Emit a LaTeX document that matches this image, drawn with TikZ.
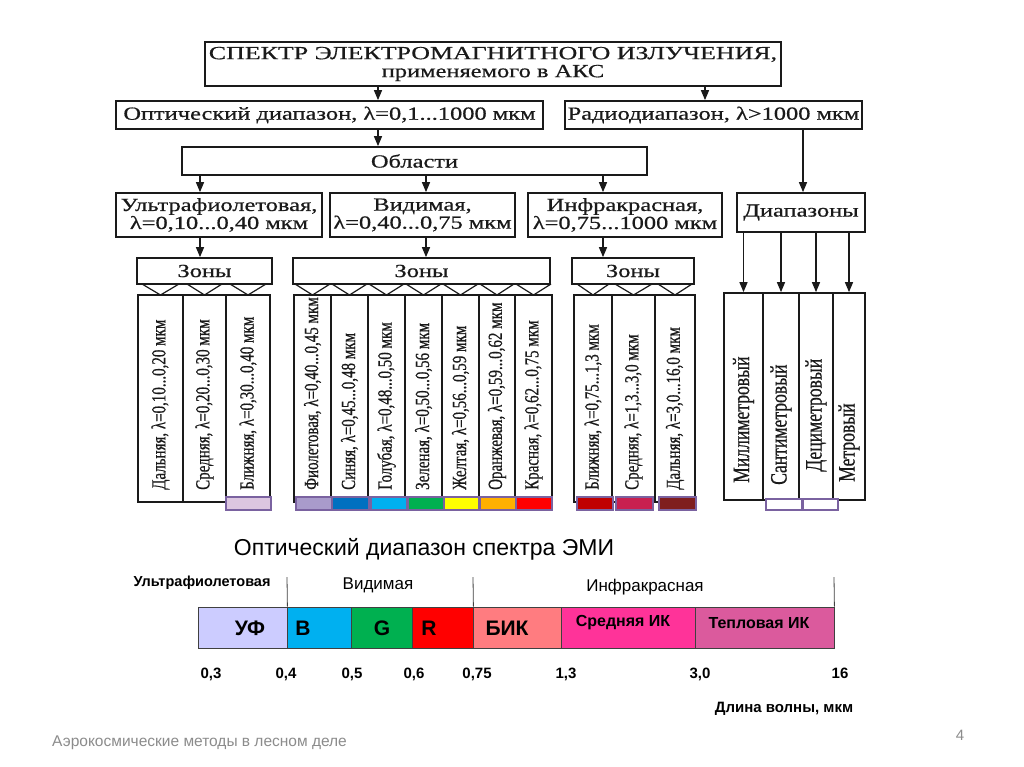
\documentclass[tikz,border=0pt]{standalone}
\usepackage{fontspec}
\usetikzlibrary{arrows.meta}
\newfontfamily\serifH[FakeStretch=1.32,FakeBold=0.6]{Liberation Serif}
\newfontfamily\serifT[FakeStretch=1.40,FakeBold=0.6]{Liberation Serif}
\newfontfamily\serifV[FakeStretch=0.75,FakeBold=0.6]{Liberation Serif}
\newfontfamily\sansf{Liberation Sans}
\definecolor{ink}{HTML}{1A1A1A}
\definecolor{barline}{HTML}{7A62A0}
\definecolor{cUF}{HTML}{CCCCFF}
\definecolor{cB}{HTML}{00B0F0}
\definecolor{cG}{HTML}{00B050}
\definecolor{cR}{HTML}{FF0000}
\definecolor{cBIK}{HTML}{FF7C80}
\definecolor{cMIR}{HTML}{FF3399}
\definecolor{cTIR}{HTML}{DB5A9D}
\definecolor{bUVn}{HTML}{DCC6E0}
\definecolor{bViol}{HTML}{A99BCB}
\definecolor{bBlue}{HTML}{0070C0}
\definecolor{bCyan}{HTML}{00B0F0}
\definecolor{bGreen}{HTML}{00B050}
\definecolor{bYellow}{HTML}{FFFF00}
\definecolor{bOrange}{HTML}{FFB000}
\definecolor{bRed}{HTML}{FF0000}
\definecolor{bIRa}{HTML}{C00000}
\definecolor{bIRb}{HTML}{C8204F}
\definecolor{bIRc}{HTML}{7F1E1E}
\definecolor{foot}{HTML}{8C8C8C}
\begin{document}
\begin{tikzpicture}[x=1pt,y=-1pt,
  box/.style={draw=ink, line width=1.7pt, fill=white, inner sep=0pt, align=center, text=ink,
    font=\serifH\fontsize{18.5}{18}\selectfont},
  arr/.style={draw=ink, line width=1.4pt, -{Triangle[length=10pt,width=8pt]}},
  col/.style={draw=ink, line width=1.7pt, inner sep=0pt, minimum height=207pt},
  vtext/.style={rotate=90, anchor=west, inner sep=0pt, text=ink, font=\serifV\fontsize{20}{20}\selectfont},
  rtext/.style={vtext, font=\serifV\fontsize{23.5}{22}\selectfont},
  vee/.style={draw=ink, line width=1.2pt},
  bar/.style={draw=barline, line width=1.3pt, minimum height=13pt, inner sep=0pt},
  cell/.style={draw=black!75, line width=0.8pt, minimum height=41pt, inner sep=0pt},
  bigl/.style={font=\sansf\bfseries\fontsize{21}{21}\selectfont},
  midl/.style={font=\sansf\bfseries\fontsize{16}{16}\selectfont},
  num/.style={anchor=base, font=\sansf\bfseries\fontsize{15}{15}\selectfont},
  grp/.style={font=\sansf\fontsize{17}{17}\selectfont},
  divl/.style={draw=black!75, line width=0.8pt}
]
\useasboundingbox[fill=white] (0,0) rectangle (1024,767);

% ---------- upper scheme: boxes ----------
\node[box, minimum width=576pt, minimum height=44pt] (top) at (493,64)
  {{\serifT СПЕКТР ЭЛЕКТРОМАГНИТНОГО ИЗЛУЧЕНИЯ,}\\применяемого в АКС};
\node[box, minimum width=427pt, minimum height=28pt] (opt) at (329.5,115)
  {Оптический диапазон, λ=0,1...1000 мкм};
\node[box, minimum width=297pt, minimum height=28pt] (rad) at (713.5,115)
  {Радиодиапазон, λ>1000 мкм};
\node[box, minimum width=465pt, minimum height=28pt] (obl) at (414.5,161) {Области};
\node[box, minimum width=206pt, minimum height=44pt] (uv) at (219,215)
  {Ультрафиолетовая,\\λ=0,10...0,40 мкм};
\node[box, minimum width=185pt, minimum height=44pt] (vis) at (422.5,215)
  {Видимая,\\λ=0,40...0,75 мкм};
\node[box, minimum width=194pt, minimum height=44pt] (ir) at (625,215)
  {Инфракрасная,\\λ=0,75...1000 мкм};
\node[box, minimum width=128pt, minimum height=39pt] (diap) at (801,212.5) {Диапазоны};
\node[box, minimum width=135pt, minimum height=26pt] (zuv) at (204.5,271) {Зоны};
\node[box, minimum width=257pt, minimum height=26pt] (zvis) at (421.5,271) {Зоны};
\node[box, minimum width=122pt, minimum height=26pt] (zir) at (633,271) {Зоны};

% arrow columns
\coordinate (xa) at (378,0);
\coordinate (xb) at (705,0);
\coordinate (xc) at (803,0);
\coordinate (xu) at (200,0);
\coordinate (xv) at (426,0);
\coordinate (xi) at (603,0);
\draw[arr] (top.south -| xa) -- (opt.north -| xa);
\draw[arr] (top.south -| xb) -- (rad.north -| xb);
\draw[arr] (opt.south -| xa) -- (obl.north -| xa);
\draw[arr] (rad.south -| xc) -- (diap.north -| xc);
\draw[arr] (obl.south -| xu) -- (uv.north -| xu);
\draw[arr] (obl.south -| xv) -- (vis.north -| xv);
\draw[arr] (obl.south -| xi) -- (ir.north -| xi);
\draw[arr] (uv.south -| xu) -- (zuv.north -| xu);
\draw[arr] (vis.south -| xv) -- (zvis.north -| xv);
\draw[arr] (ir.south -| xi) -- (zir.north -| xi);

% ---------- columns ----------
\node[col, minimum width=45pt] (u1) at (160.5,398.5) {};
\node[col, minimum width=43pt] (u2) at (204.5,398.5) {};
\node[col, minimum width=44pt] (u3) at (248,398.5) {};
\node[col, minimum width=37pt] (v1) at (312.5,398.5) {};
\node[col, minimum width=37pt] (v2) at (349.5,398.5) {};
\node[col, minimum width=37pt] (v3) at (386.5,398.5) {};
\node[col, minimum width=37pt] (v4) at (423.5,398.5) {};
\node[col, minimum width=37pt] (v5) at (460.5,398.5) {};
\node[col, minimum width=36pt] (v6) at (497,398.5) {};
\node[col, minimum width=37pt] (v7) at (533.5,398.5) {};
\node[col, minimum width=38pt] (i1) at (593,398.5) {};
\node[col, minimum width=43pt] (i2) at (633.5,398.5) {};
\node[col, minimum width=40pt] (i3) at (675,398.5) {};
\node[col, minimum width=39pt] (r1) at (743.5,396.5) {};
\node[col, minimum width=36pt] (r2) at (781,396.5) {};
\node[col, minimum width=34pt] (r3) at (816,396.5) {};
\node[col, minimum width=32pt] (r4) at (849,396.5) {};

\foreach \c in {r1,r2,r3,r4}
  \draw[arr] (diap.south -| \c.north) -- (\c.north);

% V shapes under the zone boxes
\foreach \a/\b in {138/183,183/226,226/270}
  \draw[vee] ({\a+4},284) -- ({(\a+\b)/2},295) -- ({\b-4},284);
\foreach \a/\b in {294/331,331/368,368/405,405/442,442/479,479/515,515/552}
  \draw[vee] ({\a+1},284) -- ({(\a+\b)/2},295) -- ({\b-1},284);
\foreach \a/\b in {574/612,612/655,655/695}
  \draw[vee] ({\a+3},284) -- ({(\a+\b)/2},295) -- ({\b-3},284);

% ---------- vertical texts ----------
\node[vtext] (tu1) at (u1.center |- 0,490) {Дальняя, λ=0,10...0,20 мкм};
\node[vtext] (tu2) at (u2.center |- 0,490) {Средняя, λ=0,20...0,30 мкм};
\node[vtext] (tu3) at (u3.center |- 0,490) {Ближняя, λ=0,30...0,40 мкм};
\node[vtext] (tv1) at (v1.center |- 0,490) {Фиолетовая, λ=0,40...0,45 мкм};
\node[vtext] (tv2) at (v2.center |- 0,490) {Синяя, λ=0,45...0,48 мкм};
\node[vtext] (tv3) at (v3.center |- 0,490) {Голубая, λ=0,48...0,50 мкм};
\node[vtext] (tv4) at (v4.center |- 0,490) {Зеленая, λ=0,50...0,56 мкм};
\node[vtext] (tv5) at (v5.center |- 0,490) {Желтая, λ=0,56...0,59 мкм};
\node[vtext] (tv6) at (v6.center |- 0,490) {Оранжевая, λ=0,59...0,62 мкм};
\node[vtext] (tv7) at (v7.center |- 0,490) {Красная, λ=0,62...0,75 мкм};
\node[vtext] (ti1) at (i1.center |- 0,490) {Ближняя, λ=0,75...1,3 мкм};
\node[vtext] (ti2) at (i2.center |- 0,490) {Средняя, λ=1,3...3,0 мкм};
\node[vtext] (ti3) at (i3.center |- 0,490) {Дальняя, λ=3,0...16,0 мкм};
\node[rtext] (tr1) at (r1.center |- 0,483) {Миллиметровый};
\node[rtext] (tr2) at (r2.center |- 0,485) {Сантиметровый};
\node[rtext] (tr3) at (r3.center |- 0,472) {Дециметровый};
\node[rtext] (tr4) at (r4.center |- 0,482) {Метровый};

% ---------- colour bars ----------
\node[bar, fill=bUVn, minimum width=45pt] (bu3) at (248.5,503.5) {};
\node[bar, fill=bViol, minimum width=36pt] (bv1) at (314,503.5) {};
\node[bar, fill=bBlue, minimum width=37pt] (bv2) at (350.5,503.5) {};
\node[bar, fill=bCyan, minimum width=36pt] (bv3) at (389,503.5) {};
\node[bar, fill=bGreen, minimum width=36pt] (bv4) at (426,503.5) {};
\node[bar, fill=bYellow, minimum width=35pt] (bv5) at (461.5,503.5) {};
\node[bar, fill=bOrange, minimum width=36pt] (bv6) at (498,503.5) {};
\node[bar, fill=bRed, minimum width=36pt] (bv7) at (534,503.5) {};
\node[bar, fill=bIRa, minimum width=36pt] (bi1) at (595,503.5) {};
\node[bar, fill=bIRb, minimum width=37pt] (bi2) at (634.5,503.5) {};
\node[bar, fill=bIRc, minimum width=37pt] (bi3) at (677.5,503.5) {};
\node[bar, fill=white, minimum width=36pt, minimum height=11pt] (br2) at (784,504.5) {};
\node[bar, fill=white, minimum width=35pt, minimum height=11pt] (br3) at (820.5,504.5) {};

% ---------- lower chart ----------
\node[grp, font=\sansf\fontsize{23}{23}\selectfont] (ttl) at (424,549) {Оптический диапазон спектра ЭМИ};
\node[font=\sansf\bfseries\fontsize{14.5}{15}\selectfont] (gu) at (202,583) {Ультрафиолетовая};
\node[grp] (gv) at (378,585) {Видимая};
\node[grp] (gi) at (645,587) {Инфракрасная};

\node[cell, fill=cUF, minimum width=89pt] (cuf) at (242.5,627.5) {};
\node[cell, fill=cB, minimum width=64pt] (cb) at (319,627.5) {};
\node[cell, fill=cG, minimum width=61pt] (cg) at (381.5,627.5) {};
\node[cell, fill=cR, minimum width=61pt] (cr) at (442.5,627.5) {};
\node[cell, fill=cBIK, minimum width=88pt] (cbik) at (517,627.5) {};
\node[cell, fill=cMIR, minimum width=134pt] (cmir) at (628,627.5) {};
\node[cell, fill=cTIR, minimum width=139pt] (ctir) at (764.5,627.5) {};

\coordinate (d1) at (287,577);
\coordinate (d2) at (473,577);
\coordinate (d3) at (834,577);
\draw[divl] (d1) -- (cuf.north east);
\draw[divl] (d2) -- (cr.north east);
\draw[divl] (d3) -- (ctir.north east);

\node[bigl] (luf) at (250,628) {УФ};
\node[bigl] (lb) at (303,628) {B};
\node[bigl] (lg) at (382,628) {G};
\node[bigl] (lr) at (429,628) {R};
\node[bigl] (lbik) at (507,628) {БИК};
\node[midl] (lmir) at (623,623) {Средняя ИК};
\node[midl] (ltir) at (759,623) {Тепловая ИК};

\node[num] (n1) at (211,678) {0,3};
\node[num] (n2) at (286,678) {0,4};
\node[num] (n3) at (352,678) {0,5};
\node[num] (n4) at (414,678) {0,6};
\node[num] (n5) at (477,678) {0,75};
\node[num] (n6) at (566,678) {1,3};
\node[num] (n7) at (700,678) {3,0};
\node[num] (n8) at (840,678) {16};
\node[num] (unit) at (784,712) {Длина волны, мкм};

% footer
\node[anchor=west, inner sep=0pt, text=foot, font=\sansf\fontsize{15.5}{15}\selectfont] (ftr) at (52,743)
  {Аэрокосмические методы в лесном деле};
\node[text=foot, font=\sansf\fontsize{15}{15}\selectfont] (pg) at (960,735) {4};
\end{tikzpicture}
\end{document}
